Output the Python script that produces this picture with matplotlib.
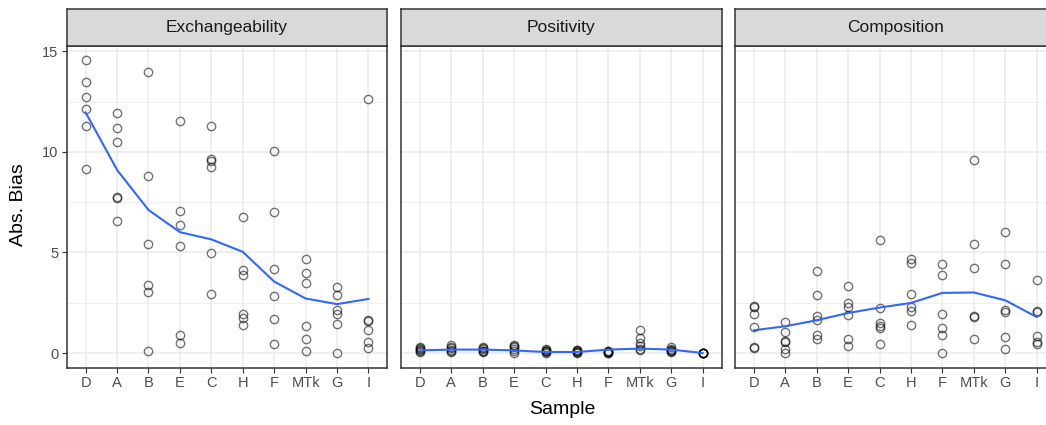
import matplotlib
matplotlib.use("Agg")
import matplotlib.pyplot as plt
import numpy as np

plt.rcParams['font.family'] = ['Liberation Sans', 'DejaVu Sans']

samples = ["D", "A", "B", "E", "C", "H", "F", "MTk", "G", "I"]
facets = ["Exchangeability", "Positivity", "Composition"]

# absolute bias per sample (six estimates each)
exchangeability = {
    "D":   [14.55, 13.46, 12.71, 12.14, 11.31, 9.15],
    "A":   [11.94, 11.21, 10.48, 7.77, 7.72, 6.58],
    "B":   [13.97, 8.80, 5.42, 3.36, 3.04, 0.10],
    "E":   [11.54, 7.06, 6.35, 5.33, 0.88, 0.51],
    "C":   [11.31, 9.63, 9.57, 9.27, 4.97, 2.92],
    "H":   [6.78, 4.15, 3.90, 1.96, 1.76, 1.41],
    "F":   [10.05, 7.01, 4.19, 2.84, 1.71, 0.47],
    "MTk": [4.68, 4.00, 3.50, 1.35, 0.68, 0.12],
    "G":   [3.29, 2.87, 2.16, 1.93, 1.46, 0.02],
    "I":   [12.62, 1.66, 1.61, 1.16, 0.53, 0.23],
}
positivity = {
    "D":   [0.30, 0.25, 0.20, 0.15, 0.10, 0.05],
    "A":   [0.40, 0.30, 0.25, 0.15, 0.10, 0.05],
    "B":   [0.30, 0.25, 0.20, 0.10, 0.10, 0.05],
    "E":   [0.40, 0.35, 0.30, 0.20, 0.10, 0.00],
    "C":   [0.20, 0.15, 0.10, 0.10, 0.05, 0.00],
    "H":   [0.15, 0.15, 0.10, 0.05, 0.05, 0.00],
    "F":   [0.10, 0.08, 0.05, 0.03, 0.02, 0.00],
    "MTk": [1.16, 0.75, 0.51, 0.33, 0.22, 0.13],
    "G":   [0.30, 0.20, 0.15, 0.10, 0.10, 0.05],
    "I":   [0.02, 0.01, 0.01, 0.00, 0.00, 0.00],
}
composition = {
    "D":   [2.34, 2.29, 1.93, 1.30, 0.30, 0.23],
    "A":   [1.54, 1.05, 0.60, 0.55, 0.22, 0.02],
    "B":   [4.10, 2.86, 1.83, 1.63, 0.90, 0.70],
    "E":   [3.32, 2.51, 2.28, 1.91, 0.70, 0.37],
    "C":   [5.61, 2.24, 1.50, 1.33, 1.26, 0.47],
    "H":   [4.68, 4.49, 2.91, 2.29, 2.09, 1.38],
    "F":   [4.44, 3.89, 1.96, 1.26, 0.90, 0.00],
    "MTk": [9.62, 5.40, 4.25, 1.86, 1.81, 0.71],
    "G":   [6.00, 4.42, 2.16, 2.06, 0.81, 0.18],
    "I":   [3.62, 2.09, 2.04, 0.83, 0.55, 0.47],
}

# smoothed trend per sample
smooth_exchangeability = [11.96, 9.10, 7.11, 6.01, 5.65, 5.03, 3.55, 2.71, 2.43, 2.69]
smooth_positivity = [0.13, 0.17, 0.17, 0.13, 0.05, 0.05, 0.17, 0.22, 0.17, 0.00]
smooth_composition = [1.13, 1.33, 1.63, 1.99, 2.26, 2.49, 2.99, 3.01, 2.62, 1.79]

panel_data = [exchangeability, positivity, composition]
panel_smooth = [smooth_exchangeability, smooth_positivity, smooth_composition]

W, H = 1046, 425
fig = plt.figure(figsize=(W / 100, H / 100), dpi=100)

panel_w = 320.5
lefts = [66.8, 401.0, 735.0]
top_px, bottom_px = 45.7, 367.7
strip_top = 9.0

grid_col = "#EBEBEB"
dark = "#333333"
x = np.arange(1, len(samples) + 1)

for i, (name, data, smooth) in enumerate(zip(facets, panel_data, panel_smooth)):
    ax = fig.add_axes([lefts[i] / W, 1 - bottom_px / H, panel_w / W, (bottom_px - top_px) / H])
    ax.set_xlim(0.4, len(samples) + 0.6)
    ax.set_ylim(-0.73, 15.28)
    ax.set_xticks(x)
    ax.set_yticks([0, 5, 10, 15])
    ax.set_yticks([2.5, 7.5, 12.5], minor=True)
    ax.grid(True, which="major", color=grid_col, lw=1.1, zorder=0)
    ax.grid(True, which="minor", axis="y", color=grid_col, lw=0.55, zorder=0)
    ax.set_axisbelow(True)
    ax.tick_params(axis="both", which="minor", length=0)
    ax.tick_params(axis="both", which="major", length=3.5, width=0.8, color=dark,
                   labelcolor="#4D4D4D", labelsize=10.5, pad=2.5)
    ax.set_xticklabels(samples)
    if i == 0:
        ax.set_yticklabels(["0", "5", "10", "15"])
    else:
        ax.tick_params(axis="y", which="major", length=0, labelleft=False)
    for s in ax.spines.values():
        s.set_color(dark)
        s.set_linewidth(1.1)

    for j, smp in enumerate(samples):
        vals = data[smp]
        ax.plot(np.full(len(vals), x[j]), vals, "o", ms=6.0, mfc="none",
                mec=(0, 0, 0, 0.55), mew=1.0, zorder=2)
    ax.plot(x, smooth, color="#3366FF", lw=1.5, zorder=3)

    # facet strip
    sax = fig.add_axes([lefts[i] / W, 1 - top_px / H, panel_w / W, (top_px - strip_top) / H])
    sax.set_facecolor("#D9D9D9")
    sax.set_xticks([])
    sax.set_yticks([])
    for s in sax.spines.values():
        s.set_color(dark)
        s.set_linewidth(1.1)
    sax.text(0.5, 0.5, name, ha="center", va="center", fontsize=12.5,
             color="#1A1A1A", transform=sax.transAxes)

fig.text(562 / W, 1 - 410 / H, "Sample", ha="center", va="center", fontsize=14)
fig.text(18.5 / W, 1 - 205 / H, "Abs. Bias", ha="center", va="center",
         rotation=90, fontsize=14)

fig.savefig("out.png", dpi=100)
